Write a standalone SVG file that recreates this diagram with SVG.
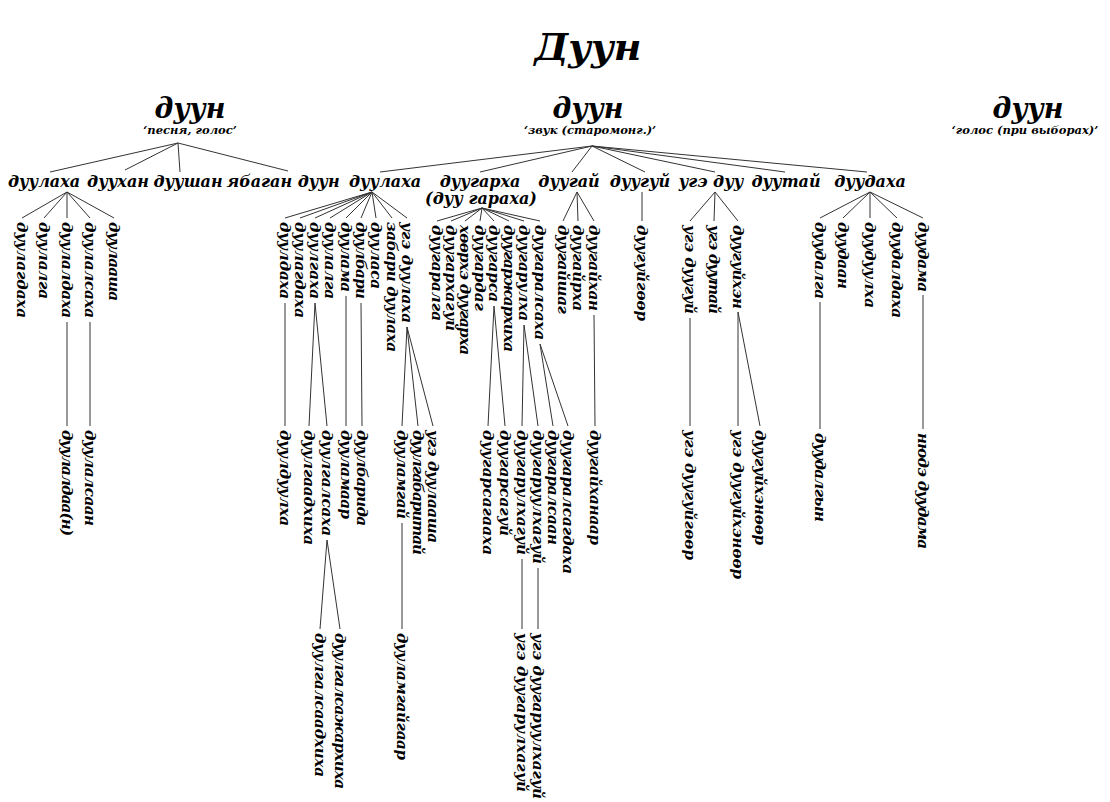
<svg xmlns="http://www.w3.org/2000/svg" width="1110" height="802" viewBox="0 0 1110 802">
<style>
text{font-family:"DejaVu Serif","Liberation Serif",serif;font-style:italic;font-weight:bold;fill:#000}
.title{font-size:38px;text-anchor:middle}
.root{font-size:27px;text-anchor:middle}
.sub{font-size:11.5px;text-anchor:middle}
.h{font-size:16px;text-anchor:middle}
.v{font-size:15px;dominant-baseline:central}
.c line{stroke:#333;stroke-width:1}
</style>
<rect width="1110" height="802" fill="#fff"/>
<text class="title" x="588" y="60">Дуун</text>
<g id="connectors" class="c">
<line x1="178" y1="143" x2="50" y2="172"/><line x1="178" y1="143" x2="125" y2="170"/><line x1="178" y1="143" x2="180" y2="172"/><line x1="178" y1="143" x2="288" y2="171"/>
<line x1="592" y1="146" x2="380" y2="172"/><line x1="592" y1="146" x2="480" y2="172"/><line x1="592" y1="146" x2="572" y2="172"/><line x1="592" y1="146" x2="645" y2="172"/><line x1="592" y1="146" x2="715" y2="172"/><line x1="592" y1="146" x2="785" y2="172"/><line x1="592" y1="146" x2="867" y2="172"/>
<line x1="67" y1="192" x2="22" y2="218"/><line x1="67" y1="192" x2="44" y2="218"/><line x1="67" y1="192" x2="67" y2="218"/><line x1="67" y1="192" x2="90" y2="218"/><line x1="67" y1="192" x2="114" y2="218"/>
<line x1="67" y1="322" x2="67" y2="426"/><line x1="90" y1="322" x2="90" y2="426"/>
<line x1="372" y1="192" x2="285" y2="218"/><line x1="372" y1="192" x2="300" y2="218"/><line x1="372" y1="192" x2="315" y2="218"/><line x1="372" y1="192" x2="330" y2="218"/><line x1="372" y1="192" x2="346" y2="218"/><line x1="372" y1="192" x2="361" y2="218"/><line x1="372" y1="192" x2="376" y2="218"/><line x1="372" y1="192" x2="392" y2="218"/><line x1="372" y1="192" x2="407" y2="218"/>
<line x1="285" y1="303" x2="285" y2="426"/><line x1="315" y1="303" x2="309" y2="426"/><line x1="315" y1="303" x2="327" y2="426"/><line x1="346" y1="296" x2="346" y2="426"/><line x1="361" y1="303" x2="362" y2="426"/>
<line x1="407" y1="327" x2="402" y2="426"/><line x1="407" y1="327" x2="418" y2="426"/><line x1="407" y1="327" x2="433" y2="426"/>
<line x1="327" y1="540" x2="320" y2="629"/><line x1="327" y1="540" x2="340" y2="629"/><line x1="402" y1="523" x2="402" y2="629"/>
<line x1="482" y1="208" x2="437" y2="221"/><line x1="482" y1="208" x2="451" y2="221"/><line x1="482" y1="208" x2="465" y2="221"/><line x1="482" y1="208" x2="480" y2="221"/><line x1="482" y1="208" x2="494" y2="221"/><line x1="482" y1="208" x2="509" y2="221"/><line x1="482" y1="208" x2="524" y2="221"/><line x1="482" y1="208" x2="540" y2="221"/>
<line x1="494" y1="306" x2="488" y2="426"/><line x1="494" y1="306" x2="505" y2="426"/><line x1="524" y1="325" x2="522" y2="426"/><line x1="524" y1="325" x2="538" y2="426"/><line x1="540" y1="344" x2="553" y2="426"/><line x1="540" y1="344" x2="568" y2="426"/>
<line x1="522" y1="559" x2="522" y2="629"/><line x1="538" y1="568" x2="538" y2="629"/>
<line x1="577" y1="192" x2="563" y2="221"/><line x1="577" y1="192" x2="578" y2="221"/><line x1="577" y1="192" x2="594" y2="221"/><line x1="594" y1="315" x2="595" y2="426"/>
<line x1="642" y1="192" x2="642" y2="221"/>
<line x1="715" y1="192" x2="690" y2="221"/><line x1="715" y1="192" x2="714" y2="221"/><line x1="715" y1="192" x2="738" y2="221"/>
<line x1="690" y1="318" x2="690" y2="426"/><line x1="738" y1="312" x2="738" y2="426"/><line x1="738" y1="312" x2="760" y2="426"/>
<line x1="870" y1="192" x2="820" y2="218"/><line x1="870" y1="192" x2="843" y2="218"/><line x1="870" y1="192" x2="870" y2="218"/><line x1="870" y1="192" x2="897" y2="218"/><line x1="870" y1="192" x2="923" y2="218"/>
<line x1="820" y1="302" x2="820" y2="429"/><line x1="923" y1="295" x2="923" y2="429"/>
</g>
<g id="root1"><text class="root" x="190" y="118">дуун</text><text class="sub" x="190" y="134">‘песня, голос’</text></g>
<g id="root2"><text class="root" x="588" y="118">дуун</text><text class="sub" x="590" y="134">‘звук (старомонг.)’</text></g>
<g id="root3"><text class="root" x="1028" y="118">дуун</text><text class="sub" x="1025" y="134">‘голос (при выборах)’</text></g>
<g id="l1-duulaha1"><text class="h" x="44" y="187">дуулаха</text></g>
<g id="l1-duuhan"><text class="h" x="118" y="187">дуухан</text></g>
<g id="l1-duushan"><text class="h" x="188" y="187">дуушан</text></g>
<g id="l1-yabagan"><text class="h" x="283" y="187">ябаган дуун</text></g>
<g id="l1-duulaha2"><text class="h" x="385" y="187">дуулаха</text></g>
<g id="l1-duugarha"><text class="h" x="480" y="187">дуугарха</text><text class="h" x="481" y="204">(дуу гараха)</text></g>
<g id="l1-duugai"><text class="h" x="569" y="187">дуугай</text></g>
<g id="l1-duugui"><text class="h" x="640" y="187">дуугуй</text></g>
<g id="l1-uge-duu"><text class="h" x="711" y="187">угэ дуу</text></g>
<g id="l1-duutai"><text class="h" x="786" y="187">дуутай</text></g>
<g id="l1-duudaha"><text class="h" x="870" y="187">дуудаха</text></g>
<g id="v-left">
<text class="v" transform="translate(22,222) rotate(90)" textLength="96">дуулагдаха</text>
<text class="v" transform="translate(44,222) rotate(90)" textLength="77">дуулалга</text>
<text class="v" transform="translate(67,222) rotate(90)" textLength="96">дуулалдаха</text>
<text class="v" transform="translate(90,222) rotate(90)" textLength="96">дуулалсаха</text>
<text class="v" transform="translate(114,222) rotate(90)" textLength="79">дуулааша</text>
<text class="v" transform="translate(67,430) rotate(90)" textLength="106">дуулалдаа(н)</text>
<text class="v" transform="translate(90,430) rotate(90)" textLength="96">дуулалсаан</text>
</g>
<g id="v-duulaha">
<text class="v" transform="translate(285,222) rotate(90)" textLength="77">дуулдаха</text>
<text class="v" transform="translate(300,222) rotate(90)" textLength="96">дуулагдаха</text>
<text class="v" transform="translate(315,222) rotate(90)" textLength="77">дуулгаха</text>
<text class="v" transform="translate(330,222) rotate(90)" textLength="77">дуулалга</text>
<text class="v" transform="translate(346,222) rotate(90)" textLength="70">дуулама</text>
<text class="v" transform="translate(361,222) rotate(90)" textLength="77">дуулбари</text>
<text class="v" transform="translate(376,222) rotate(90)" textLength="67">дууласа</text>
<text class="v" transform="translate(392,222) rotate(90)" textLength="130">забари дуулаха</text>
<text class="v" transform="translate(407,222) rotate(90)" textLength="101">угэ дуулаха</text>
<text class="v" transform="translate(285,430) rotate(90)" textLength="96">дуулдуулха</text>
<text class="v" transform="translate(309,430) rotate(90)" textLength="115">дуулгаадхиха</text>
<text class="v" transform="translate(327,430) rotate(90)" textLength="106">дуулгалсаха</text>
<text class="v" transform="translate(346,430) rotate(90)" textLength="89">дууламаар</text>
<text class="v" transform="translate(362,430) rotate(90)" textLength="96">дуулбарида</text>
<text class="v" transform="translate(402,430) rotate(90)" textLength="89">дууламгай</text>
<text class="v" transform="translate(418,430) rotate(90)" textLength="125">дуулгабаритай</text>
<text class="v" transform="translate(433,430) rotate(90)" textLength="113">угэ дуулааша</text>
<text class="v" transform="translate(320,633) rotate(90)" textLength="144">дуулгалсаадхиха</text>
<text class="v" transform="translate(340,633) rotate(90)" textLength="156">дуулгалсажархиха</text>
<text class="v" transform="translate(402,633) rotate(90)" textLength="127">дууламгайгаар</text>
</g>
<g id="v-duugarha">
<text class="v" transform="translate(437,225) rotate(90)" textLength="96">дуугаралга</text>
<text class="v" transform="translate(451,225) rotate(90)" textLength="106">дуугархагуй</text>
<text class="v" transform="translate(465,225) rotate(90)" textLength="130">хөөрхэ дуугарха</text>
<text class="v" transform="translate(480,225) rotate(90)" textLength="86">дуугардаг</text>
<text class="v" transform="translate(494,225) rotate(90)" textLength="77">дуугарса</text>
<text class="v" transform="translate(509,225) rotate(90)" textLength="127">дуугаржархиха</text>
<text class="v" transform="translate(524,225) rotate(90)" textLength="96">дуугарулха</text>
<text class="v" transform="translate(540,225) rotate(90)" textLength="115">дуугаралсаха</text>
<text class="v" transform="translate(488,430) rotate(90)" textLength="125">дуугарсагааха</text>
<text class="v" transform="translate(505,430) rotate(90)" textLength="106">дуугарсагуй</text>
<text class="v" transform="translate(522,430) rotate(90)" textLength="125">дуугарулхагуй</text>
<text class="v" transform="translate(538,430) rotate(90)" textLength="134">дуугаруулхагуй</text>
<text class="v" transform="translate(553,430) rotate(90)" textLength="115">дуугаралсаан</text>
<text class="v" transform="translate(568,430) rotate(90)" textLength="144">дуугаралсагдаха</text>
<text class="v" transform="translate(522,633) rotate(90)" textLength="159">угэ дуугарулхагуй</text>
<text class="v" transform="translate(538,633) rotate(90)" textLength="166">угэ дуугаруулхагуй</text>
</g>
<g id="v-duugai">
<text class="v" transform="translate(563,225) rotate(90)" textLength="89">дуугайшаг</text>
<text class="v" transform="translate(578,225) rotate(90)" textLength="86">дуугайрха</text>
<text class="v" transform="translate(594,225) rotate(90)" textLength="86">дуугайхан</text>
<text class="v" transform="translate(595,430) rotate(90)" textLength="115">дуугайханаар</text>
</g>
<g id="v-duugui">
<text class="v" transform="translate(642,225) rotate(90)" textLength="96">дуугуйгөөр</text>
</g>
<g id="v-uge-duu">
<text class="v" transform="translate(690,225) rotate(90)" textLength="89">угэ дуугуй</text>
<text class="v" transform="translate(714,225) rotate(90)" textLength="89">угэ дуутай</text>
<text class="v" transform="translate(738,225) rotate(90)" textLength="84">дуугуйхэн</text>
<text class="v" transform="translate(690,430) rotate(90)" textLength="130">угэ дуугуйгөөр</text>
<text class="v" transform="translate(738,430) rotate(90)" textLength="149">угэ дуугуйхэнөөр</text>
<text class="v" transform="translate(760,430) rotate(90)" textLength="115">дуугуйхэнөөр</text>
</g>
<g id="v-duudaha">
<text class="v" transform="translate(820,222) rotate(90)" textLength="77">дуудалга</text>
<text class="v" transform="translate(843,222) rotate(90)" textLength="67">дуудаан</text>
<text class="v" transform="translate(870,222) rotate(90)" textLength="86">дуудуулха</text>
<text class="v" transform="translate(897,222) rotate(90)" textLength="96">дуудалдаха</text>
<text class="v" transform="translate(923,222) rotate(90)" textLength="70">дуудама</text>
<text class="v" transform="translate(820,433) rotate(90)" textLength="89">дуудалгын</text>
<text class="v" transform="translate(923,433) rotate(90)" textLength="116">нюдэ дуудама</text>
</g>
</svg>
